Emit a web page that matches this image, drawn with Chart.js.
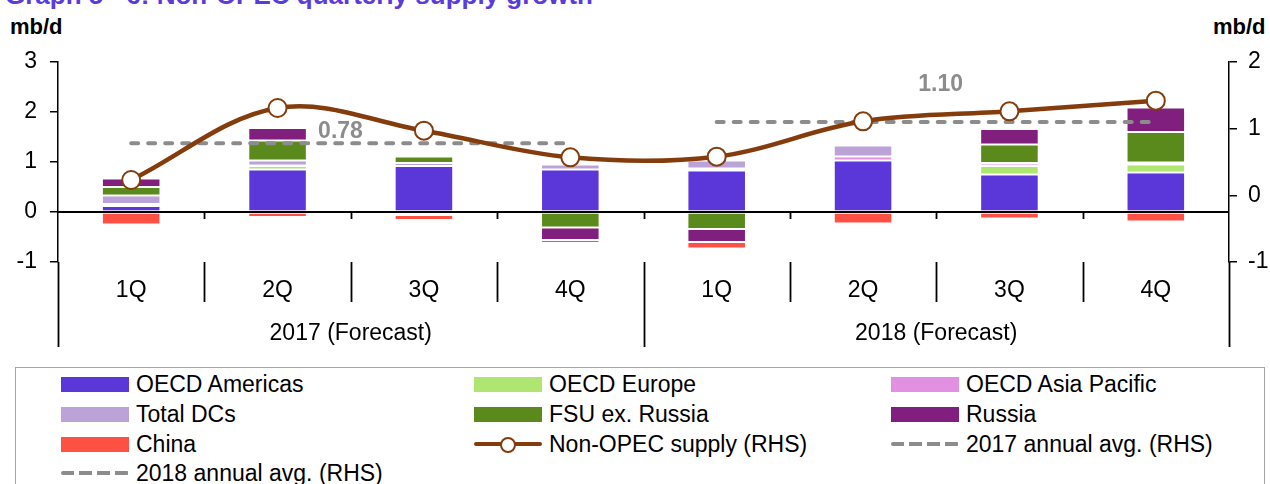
<!DOCTYPE html>
<html>
<head>
<meta charset="utf-8">
<script src="https://cdn.jsdelivr.net/npm/chart.js@4"></script>
<style>
  html, body { margin: 0; padding: 0; background: #fff; }
  body { width: 1270px; height: 484px; overflow: hidden; position: relative; font-family: "Liberation Sans", Arial, sans-serif; }
  #title { position: absolute; left: 5px; top: -20px; font: bold 26px/30px "Liberation Sans", Arial, sans-serif; color: #5b3cdb; white-space: nowrap; }
  .unit { position: absolute; top: 14px; font: bold 22px/26px "Liberation Sans", Arial, sans-serif; color: #000; }
  #unitL { left: 10px; }
  #unitR { left: 1213px; }
  #wrap { position: absolute; left: 0; top: 0; width: 1270px; height: 365px; }
  #legend { position: absolute; left: 15px; top: 367px; width: 1248px; height: 140px; border: 1.5px solid #a6a6a6; }
  .lg { position: absolute; height: 26px; white-space: nowrap; font-size: 23px; line-height: 26px; color: #000; }
  .lg .sw { position: absolute; left: 0; top: 6px; width: 68px; height: 15px; }
  .lg .tx { position: absolute; left: 75px; top: 0; }
</style>
</head>
<body>
<div id="title">Graph 5 - 6: Non-OPEC quarterly supply growth</div>
<div class="unit" id="unitL">mb/d</div>
<div class="unit" id="unitR">mb/d</div>
<div id="wrap"><canvas id="chart"></canvas></div>
<div id="legend"></div>
<script>
(function () {
  "use strict";

  // categories
  var quarters = ["1Q", "2Q", "3Q", "4Q", "1Q", "2Q", "3Q", "4Q"];
  var years = ["2017 (Forecast)", "2018 (Forecast)"];

  // quarterly growth by region, mb/d (LHS)
  var oecdAmericas = [0.12, 0.85, 0.92, 0.85, 0.83, 1.03, 0.75, 0.79];
  var oecdEurope = [0.03, 0.07, -0.03, 0, 0, 0, 0.17, 0.16];
  var oecdAsiaPacific = [0.01, 0.01, 0, 0, 0.04, 0.08, 0.05, 0.04];
  var totalDCs = [0.17, 0.10, 0.06, 0.10, 0.16, 0.22, 0.01, 0];
  var fsuExRussia = [0.17, 0.40, 0.13, -0.31, -0.34, 0, 0.37, 0.61];
  var russia = [0.17, 0.25, -0.03, -0.25, -0.26, 0, 0.31, 0.49];
  var china = [-0.25, -0.10, -0.10, -0.06, -0.13, -0.23, -0.13, -0.19];

  // total non-OPEC supply growth, mb/d (RHS)
  var nonOpec = [0.23, 1.31, 0.97, 0.57, 0.58, 1.11, 1.26, 1.42];
  var avg2017 = [0.78, 0.78, 0.78, 0.78, null, null, null, null];
  var avg2018 = [null, null, null, null, 1.10, 1.10, 1.10, 1.10];
  var avgLabels = ["0.78", "1.10"];

  var leftMin = -1, leftMax = 3;
  var rightMin = -1, rightMax = 2;

  var FONT = "'Liberation Sans', Arial, sans-serif";
  var H = 365;

  function bar(label, data, color) {
    return {
      type: "bar", label: label, data: data, backgroundColor: color,
      borderColor: "rgba(255,255,255,0.15)", borderWidth: 1, borderSkipped: false,
      yAxisID: "y", order: 1, barPercentage: 0.4, categoryPercentage: 1
    };
  }

  function avgLine(label, data) {
    return {
      type: "line", label: label, data: data, yAxisID: "y1", order: 0,
      borderColor: "#8c8c8c", borderWidth: 4, borderDash: [7, 10], borderCapStyle: "round",
      pointRadius: 0, pointHoverRadius: 0, fill: false, spanGaps: false
    };
  }

  var datasets = [
    bar("OECD Americas", oecdAmericas, "#5b37d9"),
    bar("OECD Europe", oecdEurope, "#afe571"),
    bar("OECD Asia Pacific", oecdAsiaPacific, "#e291e0"),
    bar("Total DCs", totalDCs, "#bba3d8"),
    bar("FSU ex. Russia", fsuExRussia, "#5a8a1c"),
    bar("Russia", russia, "#801f7e"),
    bar("China", china, "#ff5045"),
    {
      type: "line", label: "Non-OPEC supply (RHS)", data: nonOpec, yAxisID: "y1", order: 0,
      borderColor: "#843c0c", borderWidth: 4.5, tension: 0.35, fill: false,
      pointRadius: 9, pointBorderWidth: 2, pointBackgroundColor: "#fff", pointBorderColor: "#843c0c"
    },
    avgLine("2017 annual avg. (RHS)", avg2017),
    avgLine("2018 annual avg. (RHS)", avg2018)
  ];

  // zero line, category separators, two-level labels, average labels
  var groupAxis = {
    id: "groupAxis",
    afterDatasetsDraw: function (chart) {
      var ctx = chart.ctx, x = chart.scales.x, area = chart.chartArea;
      var y0 = chart.scales.y.getPixelForValue(0);
      var step = x.getPixelForValue(1) - x.getPixelForValue(0);
      ctx.save();
      ctx.strokeStyle = "#000";
      ctx.lineWidth = 1.5;
      ctx.beginPath();
      ctx.moveTo(area.left, y0);
      ctx.lineTo(area.right, y0);
      for (var i = 0; i <= quarters.length; i++) {
        var bx = Math.round(x.getPixelForValue(i) - step / 2) + 0.5;
        if (i > 0 && i < quarters.length) {
          ctx.moveTo(bx, y0);
          ctx.lineTo(bx, y0 + 7);
        }
        ctx.moveTo(bx, area.bottom);
        ctx.lineTo(bx, area.bottom + (i % 4 === 0 ? 85 : 40));
      }
      ctx.lineWidth = 1.8;
      ctx.stroke();

      ctx.fillStyle = "#000";
      ctx.font = "23px " + FONT;
      ctx.textAlign = "center";
      ctx.textBaseline = "middle";
      quarters.forEach(function (q, i) {
        ctx.fillText(q, x.getPixelForValue(i), area.bottom + 29);
      });
      years.forEach(function (yr, g) {
        var cx = (x.getPixelForValue(g * 4) + x.getPixelForValue(g * 4 + 3)) / 2;
        ctx.fillText(yr, cx, area.bottom + 72);
      });

      var y1 = chart.scales.y1;
      ctx.fillStyle = "#8c8c8c";
      ctx.font = "bold 23px " + FONT;
      ctx.fillText(avgLabels[0], x.getPixelForValue(1.43), y1.getPixelForValue(0.95));
      ctx.fillText(avgLabels[1], x.getPixelForValue(5.53), y1.getPixelForValue(1.66));
      ctx.restore();
    }
  };

  Chart.defaults.font.family = FONT;
  Chart.defaults.color = "#000";

  var chart = new Chart(document.getElementById("chart"), {
    data: { labels: quarters, datasets: datasets },
    options: {
      responsive: true,
      maintainAspectRatio: false,
      animation: false,
      layout: { padding: { top: 62, left: 0, right: 0, bottom: 0 } },
      plugins: { legend: { display: false }, tooltip: { enabled: false } },
      scales: {
        x: {
          stacked: true,
          grid: { display: false },
          border: { display: false },
          ticks: { display: false },
          afterFit: function (s) { s.height = H - 262; }
        },
        y: {
          position: "left",
          stacked: true,
          min: leftMin, max: leftMax,
          ticks: { stepSize: 1, padding: 13, font: { size: 23 }, color: "#000" },
          grid: { drawOnChartArea: false, tickColor: "#000", tickLength: 8, lineWidth: 1.5 },
          border: { color: "#000", width: 1.5 },
          afterFit: function (s) { s.width = 58; }
        },
        y1: {
          position: "right",
          min: rightMin, max: rightMax,
          ticks: { stepSize: 1, padding: 11, font: { size: 23 }, color: "#000" },
          grid: { drawOnChartArea: false, tickColor: "#000", tickLength: 8, lineWidth: 1.5 },
          border: { color: "#000", width: 1.5 },
          afterFit: function (s) { s.width = 41; }
        }
      }
    },
    plugins: [groupAxis]
  });

  // legend, 3 columns, built from the chart datasets
  var colX = [45, 458, 875];
  var rowY = [3, 33, 63, 92];
  var legend = document.getElementById("legend");
  chart.data.datasets.forEach(function (ds, i) {
    var item = document.createElement("div");
    item.className = "lg";
    item.style.left = colX[i % 3] + "px";
    item.style.top = rowY[Math.floor(i / 3)] + "px";
    var sw = document.createElement("div");
    sw.className = "sw";
    if (ds.type === "bar") {
      sw.style.background = ds.backgroundColor;
    } else if (ds.borderDash) {
      sw.style.top = "11px";
      sw.style.height = "4px";
      sw.style.background = "repeating-linear-gradient(90deg," + ds.borderColor + " 0 13px, transparent 13px 18px)";
      sw.style.borderRadius = "2px";
    } else {
      sw.style.background = "transparent";
      sw.innerHTML =
        '<div style="position:absolute;left:0;top:5px;width:68px;height:4px;background:' + ds.borderColor + ';border-radius:2px"></div>' +
        '<div style="position:absolute;left:26px;top:0;width:12px;height:12px;border-radius:50%;background:#fff;border:2px solid ' + ds.borderColor + '"></div>';
    }
    var tx = document.createElement("div");
    tx.className = "tx";
    tx.textContent = ds.label;
    item.appendChild(sw);
    item.appendChild(tx);
    legend.appendChild(item);
  });
})();
</script>
</body>
</html>
